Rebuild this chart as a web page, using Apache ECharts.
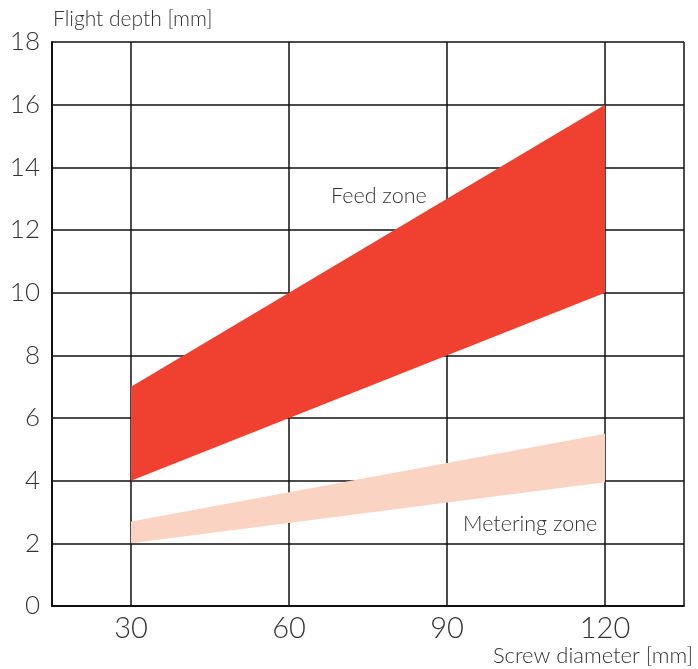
<!DOCTYPE html>
<html>
<head>
<meta charset="utf-8">
<script src="https://cdn.jsdelivr.net/npm/echarts@6/dist/echarts.min.js"></script>
<style>html,body{margin:0;padding:0;background:#fff;}#chart{width:698px;height:669px;}</style>
</head>
<body>
<div id="chart"></div>
<script>
const diameters = [30, 120];
const feedLow = [4, 10];
const feedHigh = [7, 16];
const meterLow = [2, 3.95];
const meterHigh = [2.7, 5.5];
const xTicks = [30, 60, 90, 120];
const yTitle = 'Flight depth [mm]';
const xTitle = 'Screw diameter [mm]';
const feedLabel = 'Feed zone';
const meterLabel = 'Metering zone';

const FONT = 'Lato';
const TXT = '#333';

function bandSeries(name, low, high, color) {
  return {
    type: 'custom',
    name: name,
    coordinateSystem: 'cartesian2d',
    data: [[diameters[0], low[0]]],
    z: 5,
    renderItem: function (params, api) {
      const pts = [];
      for (let i = 0; i < diameters.length; i++) pts.push(api.coord([diameters[i], high[i]]));
      for (let i = diameters.length - 1; i >= 0; i--) pts.push(api.coord([diameters[i], low[i]]));
      return { type: 'polygon', shape: { points: pts }, style: { fill: color } };
    }
  };
}

const chart = echarts.init(document.getElementById('chart'));
chart.setOption({
  animation: false,
  grid: { left: 52, right: 14, top: 42, bottom: 63 },
  xAxis: {
    type: 'value', min: 15, max: 135, interval: 15,
    axisLine: { show: true, lineStyle: { color: '#111', width: 2 } },
    axisTick: { show: false },
    splitLine: { show: false },
    axisLabel: {
      fontFamily: FONT, fontWeight: 300, fontSize: 29, color: TXT, margin: 8,
      formatter: function (v) { return xTicks.indexOf(v) >= 0 ? String(v) : ''; }
    }
  },
  yAxis: {
    type: 'value', min: 0, max: 18, interval: 2,
    axisLine: { show: true, lineStyle: { color: '#111', width: 2 } },
    axisTick: { show: false },
    splitLine: { show: true, lineStyle: { color: '#111', width: 1.5 } },
    axisLabel: { fontFamily: FONT, fontWeight: 300, fontSize: 26, color: TXT, margin: 12 }
  },
  series: [
    {
      type: 'line', data: [], silent: true,
      markLine: {
        symbol: 'none', silent: true, label: { show: false },
        lineStyle: { color: '#111', width: 1.5, type: 'solid' },
        data: xTicks.concat([135]).map(function (v) { return { xAxis: v }; })
      }
    },
    bandSeries('Feed zone', feedLow, feedHigh, '#EF4030'),
    bandSeries('Metering zone', meterLow, meterHigh, '#FBD3C3')
  ],
  graphic: [
    { type: 'text', left: 53, top: 9, style: { text: yTitle, font: '300 21px ' + FONT, fill: TXT } },
    { type: 'text', right: 5, top: 645, style: { text: xTitle, font: '300 22px ' + FONT, fill: TXT } },
    { type: 'text', left: 331, top: 185, style: { text: feedLabel, font: '300 21.5px ' + FONT, fill: TXT } },
    { type: 'text', left: 463, top: 513, style: { text: meterLabel, font: '300 21.5px ' + FONT, fill: TXT } }
  ]
});
</script>
</body>
</html>
